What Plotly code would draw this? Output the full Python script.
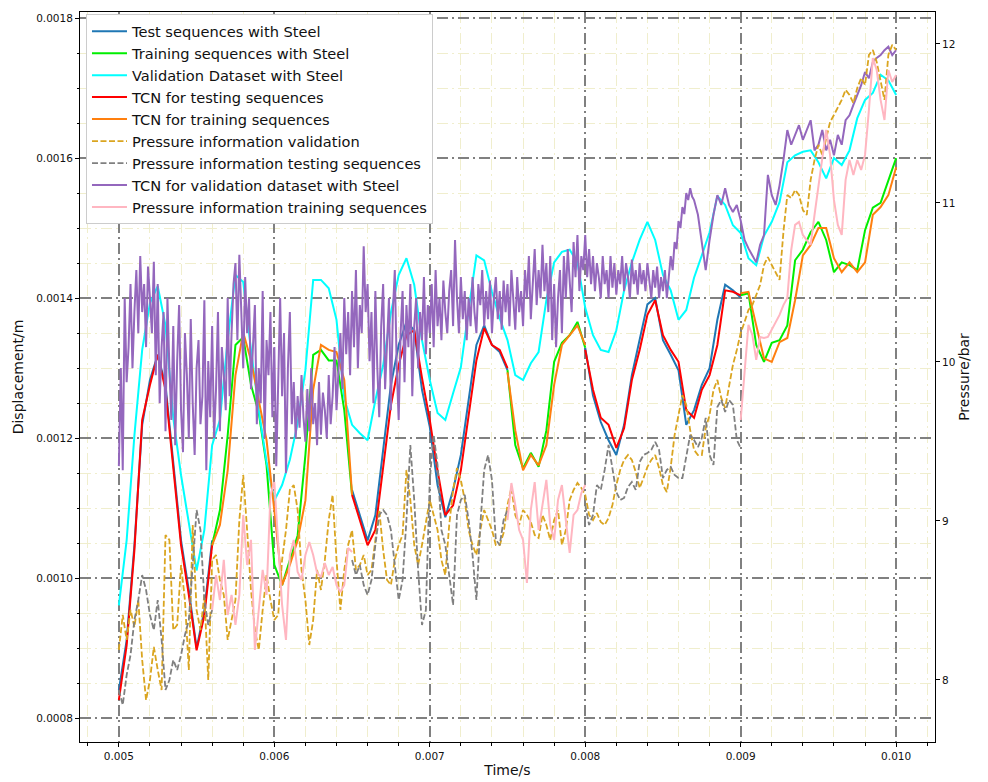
import numpy as np
import plotly.graph_objects as go

# ---------------------------------------------------------------------------
# Recording windows (s).  The validation run covers the whole record; the
# test and training runs alternate in the windows below.
# ---------------------------------------------------------------------------
T_START, T_END = 0.005, 0.010
test_windows = [(0.0050, 0.0056), (0.0065, 0.0075), (0.0080, 0.0090)]
train_windows = [(0.0056, 0.0065), (0.0075, 0.0080), (0.0090, 0.0100)]

MM = 1e-3  # displacement values below are in mm, plotted in m

# ---- validation dataset with steel (mm), 0.05 ms sampling -----------------
validation_disp = [
    0.961, 1.054, 1.204, 1.326, 1.393, 1.417, 1.361, 1.229, 1.147, 1.076,
    1.011, 1.069, 1.190, 1.226, 1.340, 1.433, 1.423, 1.326, 1.240, 1.166,
    1.111, 1.133, 1.169, 1.221, 1.297, 1.426, 1.426, 1.414, 1.369, 1.257,
    1.219, 1.207, 1.197, 1.254, 1.304, 1.379, 1.433, 1.457, 1.419, 1.340,
    1.283, 1.236, 1.226, 1.264, 1.301, 1.383, 1.461, 1.454, 1.409, 1.371,
    1.340, 1.290, 1.283, 1.307, 1.323, 1.397, 1.451, 1.466, 1.469, 1.451,
    1.386, 1.347, 1.326, 1.323, 1.354, 1.411, 1.451, 1.483, 1.509, 1.483,
    1.433, 1.411, 1.369, 1.383, 1.429, 1.461, 1.494, 1.546, 1.533, 1.504,
    1.493, 1.457, 1.447, 1.489, 1.509, 1.537, 1.594, 1.604, 1.609, 1.611,
    1.594, 1.571, 1.600, 1.590, 1.611, 1.657, 1.683, 1.693, 1.719, 1.711,
    1.690,
]

# ---- TCN prediction for the validation dataset (mm) -----------------------
# 5.0-8.7 ms at 0.0125 ms sampling
tcn_validation_early = [
    1.160, 1.300, 1.154, 1.400, 1.280, 1.330, 1.420, 1.300, 1.380, 1.440,
    1.350, 1.460, 1.380, 1.420, 1.330, 1.445, 1.400, 1.350, 1.452, 1.290,
    1.420, 1.250, 1.330, 1.380, 1.210, 1.400, 1.300, 1.226, 1.360, 1.190,
    1.310, 1.390, 1.240, 1.180, 1.350, 1.290, 1.200, 1.370, 1.250, 1.176,
    1.300, 1.340, 1.220, 1.260, 1.397, 1.154, 1.310, 1.230, 1.360, 1.200,
    1.270, 1.380, 1.210, 1.330, 1.290, 1.240, 1.400, 1.260, 1.350, 1.420,
    1.450, 1.340, 1.462, 1.380, 1.300, 1.430, 1.350, 1.400, 1.270, 1.330,
    1.390, 1.220, 1.300, 1.250, 1.410, 1.200, 1.340, 1.290, 1.380, 1.230,
    1.330, 1.160, 1.280, 1.400, 1.260, 1.350, 1.150, 1.300, 1.380, 1.220,
    1.280, 1.200, 1.260, 1.215, 1.290, 1.230, 1.195, 1.270, 1.210, 1.300,
    1.220, 1.250, 1.190, 1.280, 1.205, 1.265, 1.240, 1.200, 1.290, 1.220,
    1.260, 1.330, 1.240, 1.300, 1.350, 1.270, 1.400, 1.320, 1.380, 1.290,
    1.410, 1.330, 1.440, 1.300, 1.390, 1.350, 1.474, 1.380, 1.420, 1.310,
    1.380, 1.250, 1.410, 1.300, 1.230, 1.360, 1.420, 1.270, 1.340, 1.400,
    1.240, 1.380, 1.440, 1.300, 1.226, 1.350, 1.410, 1.280, 1.390, 1.330,
    1.420, 1.260, 1.360, 1.400, 1.300, 1.380, 1.340, 1.430, 1.320, 1.390,
    1.350, 1.420, 1.330, 1.440, 1.360, 1.400, 1.340, 1.425, 1.380, 1.350,
    1.410, 1.440, 1.360, 1.483, 1.400, 1.350, 1.430, 1.370, 1.410, 1.340,
    1.400, 1.360, 1.430, 1.380, 1.350, 1.420, 1.390, 1.440, 1.360, 1.410,
    1.370, 1.425, 1.350, 1.400, 1.430, 1.370, 1.410, 1.355, 1.425, 1.380,
    1.420, 1.360, 1.440, 1.390, 1.355, 1.430, 1.380, 1.410, 1.360, 1.440,
    1.400, 1.460, 1.370, 1.420, 1.470, 1.390, 1.440, 1.400, 1.476, 1.410,
    1.450, 1.380, 1.460, 1.340, 1.420, 1.330, 1.400, 1.440, 1.350, 1.460,
    1.400, 1.470, 1.420, 1.380, 1.480, 1.430, 1.490, 1.410, 1.460, 1.440,
    1.490, 1.430, 1.470, 1.420, 1.460, 1.410, 1.450, 1.430, 1.400, 1.460,
    1.420, 1.440, 1.400, 1.460, 1.415, 1.450, 1.405, 1.440, 1.420, 1.460,
    1.410, 1.450, 1.430, 1.400, 1.455, 1.420, 1.440, 1.405, 1.450, 1.420,
    1.440, 1.410, 1.450, 1.425, 1.400, 1.440, 1.415, 1.445, 1.400, 1.430,
    1.410, 1.440, 1.400, 1.430, 1.460, 1.440, 1.480, 1.470, 1.510, 1.500,
    1.530, 1.520, 1.550, 1.540, 1.557, 1.545, 1.540,
]
# 8.725-10.0 ms at 0.025 ms sampling
tcn_validation_late = [
    1.519,
    1.476, 1.440, 1.483, 1.519, 1.547, 1.533, 1.557, 1.533, 1.523, 1.533,
    1.511, 1.483, 1.471, 1.461, 1.451, 1.476, 1.490, 1.576, 1.547, 1.533,
    1.561, 1.597, 1.640, 1.619, 1.633, 1.647, 1.626, 1.640, 1.654, 1.611,
    1.619, 1.640, 1.611, 1.626, 1.604, 1.633, 1.619, 1.654, 1.661, 1.676,
    1.690, 1.704, 1.723, 1.714, 1.737, 1.743, 1.747, 1.754, 1.759, 1.747,
    1.754,
]

# ---- test sequences (mm), one list per test window ------------------------
test_disp = [
    [0.840, 0.911, 1.047, 1.219, 1.283, 1.319, 1.276, 1.161, 1.054, 0.983,
     0.900, 0.954, 1.054],
    [1.126, 1.090, 1.054, 1.090, 1.183, 1.276, 1.333, 1.366, 1.354, 1.269,
     1.216, 1.133, 1.087, 1.126, 1.176, 1.257, 1.333, 1.361, 1.333, 1.323,
     1.297],
    [1.329, 1.261, 1.223, 1.197, 1.176, 1.219, 1.290, 1.340, 1.391, 1.400,
     1.340, 1.319, 1.297, 1.219, 1.240, 1.276, 1.300, 1.369, 1.419, 1.411,
     1.401],
]
tcn_test_disp = [
    [0.826, 0.904, 1.040, 1.226, 1.276, 1.319, 1.269, 1.154, 1.047, 0.976,
     0.897, 0.947, 1.047],
    [1.119, 1.083, 1.047, 1.069, 1.154, 1.247, 1.304, 1.347, 1.354, 1.286,
     1.226, 1.154, 1.090, 1.104, 1.154, 1.233, 1.311, 1.357, 1.333, 1.326,
     1.300],
    [1.326, 1.269, 1.229, 1.219, 1.186, 1.214, 1.283, 1.326, 1.376, 1.397,
     1.347, 1.326, 1.309, 1.240, 1.229, 1.269, 1.290, 1.333, 1.411, 1.409,
     1.404],
]

# ---- training sequences (mm), one list per training window ----------------
train_disp = [
    [1.047, 1.097, 1.204, 1.333, 1.344, 1.276, 1.236, 1.161, 1.019, 0.990,
     1.026, 1.061, 1.176, 1.319, 1.326, 1.311, 1.311, 1.240, 1.119],
    [1.297, 1.190, 1.157, 1.179, 1.159, 1.211, 1.309, 1.336, 1.347, 1.366,
     1.329],
    [1.404, 1.407, 1.333, 1.309, 1.336, 1.340, 1.361, 1.454, 1.469, 1.494,
     1.509, 1.483, 1.437, 1.451, 1.447, 1.440, 1.497, 1.529, 1.536, 1.569,
     1.600],
]
tcn_train_disp = [
    [1.047, 1.076, 1.154, 1.290, 1.351, 1.311, 1.254, 1.197, 1.097, 0.990,
     1.019, 1.054, 1.111, 1.269, 1.333, 1.326, 1.323, 1.283, 1.119],
    [1.294, 1.211, 1.154, 1.176, 1.161, 1.190, 1.276, 1.333, 1.347, 1.361,
     1.333],
    [1.407, 1.409, 1.361, 1.314, 1.309, 1.337, 1.343, 1.397, 1.461, 1.476,
     1.500, 1.500, 1.457, 1.437, 1.451, 1.437, 1.451, 1.519, 1.530, 1.547,
     1.587],
]

# ---- chamber pressure (bar), 0.025 ms sampling ----------------------------
pressure_validation = [
    8.189, 8.409, 8.252, 8.440, 8.333, 8.503, 8.126, 7.874, 8.000, 8.208,
    8.063, 7.937, 8.912, 8.881, 8.314, 8.346, 8.723, 8.503, 8.063, 8.975,
    8.440, 8.314, 8.535, 8.000, 8.755, 8.786, 8.629, 8.535, 8.252, 8.377,
    8.503, 9.006, 9.289, 8.943, 8.566, 8.314, 8.189, 8.440, 8.660, 8.503,
    8.377, 8.409, 8.755, 8.943, 9.195, 9.226, 9.069, 8.692, 8.503, 8.220,
    8.377, 8.692, 8.566, 8.755, 9.006, 9.164, 8.755, 8.440, 8.692, 8.849,
    8.943, 8.692, 8.723, 8.786, 8.660, 8.692, 8.881, 9.069, 8.818, 8.629,
    8.597, 8.755, 8.849, 8.912, 9.321, 9.132, 8.849, 8.723, 8.849, 9.006,
    9.132, 9.038, 8.943, 8.755, 8.660, 8.975, 9.195, 9.333, 9.258, 9.132,
    8.943, 8.849, 8.786, 8.943, 9.069, 9.006, 8.943, 8.849, 8.849, 8.925,
    9.101, 9.208, 9.038, 8.975, 9.069, 9.038, 8.994, 8.912, 8.893, 9.038,
    8.975, 8.881, 9.006, 9.069, 8.849, 8.943, 9.132, 9.195, 9.239, 9.208,
    9.164, 9.038, 9.006, 9.050, 8.994, 8.975, 9.019, 9.101, 9.226, 9.321,
    9.384, 9.415, 9.384, 9.308, 9.208, 9.270, 9.340, 9.384, 9.415, 9.333,
    9.226, 9.182, 9.340, 9.541, 9.679, 9.792, 9.730, 9.572, 9.447, 9.415,
    9.415, 9.585, 9.667, 9.824, 9.887, 9.774, 9.711, 9.855, 9.981, 10.075,
    10.182, 10.252, 10.327, 10.358, 10.421, 10.484, 10.610, 10.660, 10.610, 10.566,
    10.516, 10.818, 11.050, 11.031, 11.082, 11.050, 10.956, 10.925, 11.145, 11.270,
    11.365, 11.302, 11.396, 11.509, 11.553, 11.597, 11.648, 11.711, 11.679, 11.629,
    11.723, 11.786, 11.742, 11.931, 11.962, 11.887, 11.774, 11.648, 11.931, 11.994,
    11.962,
]
pressure_test = [
    [7.937, 7.843, 8.031, 8.157, 8.377, 8.503, 8.660, 8.566, 8.409, 8.314,
     8.503, 8.252, 7.937, 8.000, 8.126, 8.063, 8.157, 8.283, 8.377, 8.755,
     9.069, 8.943, 8.503, 8.346, 8.440],
    [8.755, 8.660, 8.723, 8.597, 8.535, 8.629, 8.849, 9.038, 9.069, 9.038,
     8.943, 8.723, 8.503, 8.629, 9.006, 9.478, 9.132, 8.692, 8.346, 8.440,
     9.258, 9.541, 9.352, 8.943, 8.849, 8.660, 8.472, 9.038, 9.132, 9.164,
     9.006, 8.786, 8.503, 8.975, 9.321, 9.415, 9.258, 8.881, 8.849, 9.006,
     9.069],
    [9.101, 8.975, 9.038, 9.226, 9.195, 9.321, 9.478, 9.321, 9.182, 9.132,
     9.145, 9.214, 9.245, 9.195, 9.371, 9.415, 9.428, 9.447, 9.497, 9.447,
     9.270, 9.321, 9.340, 9.289, 9.270, 9.270, 9.415, 9.541, 9.509, 9.465,
     9.522, 9.648, 9.415, 9.352, 9.717, 9.761, 9.686, 9.761, 9.730, 9.509,
     9.459],
]
pressure_train = [
    [8.440, 8.660, 8.503, 8.755, 8.409, 8.535, 8.346, 8.535, 9.038, 8.723,
     8.881, 8.189, 8.440, 8.692, 8.535, 9.164, 9.245, 8.849, 8.472, 8.252,
     8.786, 8.881, 8.679, 8.629, 8.786, 8.868, 8.786, 8.673, 8.648, 8.736,
     8.660, 8.711, 8.597, 8.553, 8.597, 8.830, 8.805],
    [9.006, 9.239, 9.101, 8.943, 8.881, 8.610, 9.069, 9.245, 8.943, 9.101,
     9.258, 8.975, 8.881, 9.132, 9.226, 9.006, 8.799, 9.038, 9.069, 9.176,
     9.226],
    [9.635, 9.950, 10.233, 10.170, 10.013, 10.157, 10.151, 10.157, 10.201, 10.252,
     10.296, 10.358, 10.403, 10.704, 10.862, 10.881, 10.799, 10.767, 10.736, 10.925,
     11.113, 11.270, 11.459, 11.302, 11.019, 10.862, 10.799, 11.145, 11.270, 11.176,
     11.270, 11.208, 11.302, 11.585, 11.912, 11.836, 11.648, 11.522, 11.836, 11.761,
     11.805],
]

X_TICKS = [0.005, 0.006, 0.007, 0.008, 0.009, 0.010]
Y_TICKS = [0.0008, 0.0010, 0.0012, 0.0014, 0.0016, 0.0018]
Y2_TICKS = [8, 9, 10, 11, 12]


def full_record(values, scale=1.0):
    t = np.linspace(T_START, T_END, len(values))
    return list(t), [v * scale for v in values]


def windowed(windows, segments, scale=1.0):
    """Concatenate per-window samples, breaking the line between windows."""
    xs, ys = [], []
    for (t0, t1), seg in zip(windows, segments):
        xs += list(np.linspace(t0, t1, len(seg))) + [None]
        ys += [v * scale for v in seg] + [None]
    return xs[:-1], ys[:-1]


def two_rate(early, late, t_split, scale=1.0):
    """Fine sampling up to t_split, coarser sampling afterwards."""
    t_early = np.linspace(T_START, t_split, len(early))
    step = (T_END - t_split) / len(late)
    t_late = np.linspace(t_split + step, T_END, len(late))
    return list(t_early) + list(t_late), [v * scale for v in early + late]


FONT = "DejaVu Sans"
GRID_MAJOR = "rgb(128,128,128)"
GRID_MINOR = "rgb(240,238,205)"
DASHDOT = "11px,4px,2px,4px"
DASHED = "6px,2.5px"

fig = go.Figure()


def add(x, y, name, color, axis="y", dash="solid", width=2.0):
    fig.add_trace(go.Scatter(
        x=x, y=y, name=name, mode="lines", yaxis=axis,
        line=dict(color=color, width=width, dash=dash),
        connectgaps=False,
    ))


add(*windowed(test_windows, test_disp, MM), "Test sequences with Steel", "#1f77b4")
add(*windowed(train_windows, train_disp, MM), "Training sequences with Steel", "#00ee00")
add(*full_record(validation_disp, MM), "Validation Dataset with Steel", "#00ffff")
add(*windowed(test_windows, tcn_test_disp, MM), "TCN for testing sequences", "#ff0000")
add(*windowed(train_windows, tcn_train_disp, MM), "TCN for training sequences", "#ff7f0e")
add(*full_record(pressure_validation), "Pressure information validation",
    "#daa520", axis="y2", dash=DASHED, width=1.8)
add(*windowed(test_windows, pressure_test), "Pressure information testing sequences",
    "#808080", axis="y2", dash=DASHED, width=1.8)
add(*two_rate(tcn_validation_early, tcn_validation_late, 0.0087, MM),
    "TCN for validation dataset with Steel", "#9467bd")
add(*windowed(train_windows, pressure_train), "Pressure information training sequences",
    "#ffb6c1", axis="y2")

tick_font = dict(family=FONT, size=10.5, color="#111111")
title_font = dict(family=FONT, size=14, color="#111111")

fig.update_layout(
    width=988, height=782,
    margin=dict(l=80, r=53, t=12, b=40, autoexpand=False),
    paper_bgcolor="white", plot_bgcolor="white",
    font=dict(family=FONT, size=12, color="#111111"),
    showlegend=True,
    legend=dict(
        x=0.007, y=0.997, xanchor="left", yanchor="top",
        bgcolor="white", bordercolor="#cccccc", borderwidth=1,
        font=dict(family=FONT, size=14.6, color="#111111"),
        traceorder="normal", itemwidth=35,
    ),
    xaxis=dict(
        range=[0.00475, 0.01025], tickvals=X_TICKS, tickformat=".3f",
        ticks="outside", ticklen=4, tickwidth=1, tickcolor="black",
        showline=True, linecolor="black", linewidth=1, mirror=True,
        showgrid=True, gridcolor=GRID_MAJOR, gridwidth=1.5, griddash=DASHDOT,
        zeroline=False, tickfont=tick_font,
        minor=dict(dtick=0.0002, tick0=0.005, ticks="outside", ticklen=2.5,
                   tickcolor="black", showgrid=True, gridcolor=GRID_MINOR, gridwidth=1),
        title=dict(text="Time/s", font=title_font, standoff=4),
        automargin=False,
    ),
    yaxis=dict(
        range=[0.000766, 0.0018086], tickvals=Y_TICKS, tickformat=".4f",
        ticks="outside", ticklen=4, tickwidth=1, tickcolor="black",
        showline=True, linecolor="black", linewidth=1, mirror=True,
        showgrid=True, gridcolor=GRID_MAJOR, gridwidth=1.5, griddash=DASHDOT,
        zeroline=False, tickfont=tick_font,
        minor=dict(dtick=0.00005, tick0=0.0008, ticks="outside", ticklen=2.5,
                   tickcolor="black", showgrid=True, gridcolor=GRID_MINOR, gridwidth=1),
        title=dict(text="Displacement/m", font=title_font, standoff=9),
        automargin=False,
    ),
    yaxis2=dict(
        overlaying="y", side="right",
        range=[7.61, 12.201], tickvals=Y2_TICKS,
        ticks="outside", ticklen=4, tickwidth=1, tickcolor="black",
        showline=True, linecolor="black", linewidth=1,
        showgrid=False, zeroline=False, tickfont=tick_font,
        title=dict(text="Pressure/bar", font=title_font, standoff=4),
        automargin=False,
    ),
)

fig.write_html("out.html")
